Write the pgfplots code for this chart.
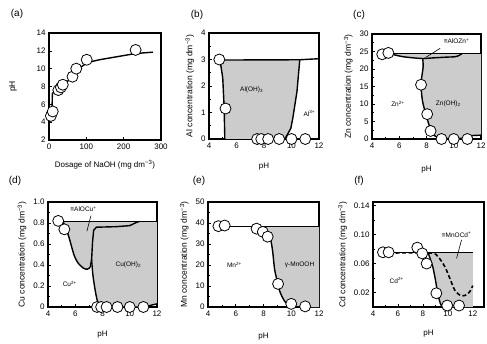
\documentclass[border=0pt]{standalone}
\usepackage{fontspec}
\setmainfont{Liberation Sans}
\usepackage{pgfplots}
\pgfplotsset{compat=1.18}
\definecolor{fillg}{gray}{0.8}
\tikzset{inlab/.style={font=\fontsize{6.5}{7}\selectfont}}
\pgfplotsset{
  every axis/.append style={
    scale only axis, clip=false, anchor=south west,
    axis line style={line width=1.1pt},
    tick align=inside, tick pos=left,
    tick style={black, line width=0.6pt},
    major tick length=3pt, minor tick length=2pt,
    tick label style={font=\fontsize{8}{9}\selectfont},
    x label style={font=\fontsize{8}{9}\selectfont, at={(axis description cs:0.5,-0.26)}, anchor=center},
    y label style={font=\fontsize{8.5}{9}\selectfont},
    /pgf/number format/assume math mode=true,
  },
  circ/.style={only marks, mark=*, mark size=5.5pt, mark options={fill=white, draw=black, line width=0.8pt}},
  crv/.style={black, line width=1.4pt, no marks},
  lead/.style={black, line width=0.6pt, no marks},
  gfill/.style={fill=fillg, draw=none, no marks},
}
\begin{document}
\begin{tikzpicture}[x=1pt,y=1pt]
\useasboundingbox (0,0) rectangle (487,343);
\node[font=\fontsize{10}{11}\selectfont] at (17,329) {(a)};
\node[font=\fontsize{10}{11}\selectfont] at (197,328) {(b)};
\node[font=\fontsize{10}{11}\selectfont] at (359,328) {(c)};
\node[font=\fontsize{10}{11}\selectfont] at (15,162) {(d)};
\node[font=\fontsize{10}{11}\selectfont] at (199,162) {(e)};
\node[font=\fontsize{10}{11}\selectfont] at (359,162) {(f)};

% (a)
\begin{axis}[at={(49pt,203pt)}, width=112pt, height=107pt,
  xmin=0, xmax=300, ymin=2, ymax=14, xtick={0,100,200,300}, ytick={2,4,...,14},
  xlabel={Dosage of NaOH (mg dm\textsuperscript{−3})}, ylabel={pH},
  x label style={at={(axis description cs:0.5,-0.235)}},
  y label style={at={(axis description cs:-0.32,0.5)}, anchor=center}]
\addplot[crv] coordinates {(3,4.4) (8,4.9) (9,7.2) (20,7.7) (33,8.1) (60,8.9) (75,9.9) (104,10.7) (135,11.0) (232,11.7) (278,11.85)};
\addplot[circ] coordinates {(5,4.7) (10,5.2) (25,7.6) (32,7.9) (37,8.2) (63,9.1) (73,10.0) (101,11.0) (232,12.1)};
\end{axis}

% (b)
\begin{axis}[at={(209pt,204pt)}, width=110pt, height=106pt,
  xmin=4, xmax=12, ymin=0, ymax=4, xtick={4,6,...,12}, ytick={0,1,...,4}, minor tick num=1,
  xlabel={pH}, ylabel={Al concentration (mg dm\textsuperscript{−3})}]
\addplot[gfill] coordinates {(4.8,2.98) (5.0,2.3) (5.1,1.2) (5.15,0) (9.5,0) (9.6,0.08) (9.95,0.4) (10.1,0.8) (10.4,1.8) (10.6,2.98)} -- cycle;
\addplot[crv] coordinates {(4.8,2.98) (10.6,2.99) (12,3.03)};
\addplot[crv] coordinates {(4.8,2.98) (5.0,2.3) (5.1,1.2) (5.15,0)};
\addplot[crv] coordinates {(10.6,2.98) (10.4,1.8) (10.1,0.8) (9.95,0.4) (9.6,0.08) (9.5,0)};
\addplot[circ] coordinates {(4.75,3.0) (5.2,1.15) (7.5,0) (7.8,0) (8.3,0) (9.1,0) (10,0) (11,0)};
\node[inlab] at (axis cs:7.1,1.85) {Al(OH)\textsubscript{3}};
\node[inlab] at (axis cs:11.3,0.97) {Al\textsuperscript{3+}};
\end{axis}

% (c)
\begin{axis}[at={(372pt,204pt)}, width=109pt, height=105pt,
  xmin=4, xmax=12, ymin=0, ymax=30, xtick={4,6,...,12}, ytick={0,5,...,30}, minor tick num=1,
  xlabel={pH}, ylabel={Zn concentration (mg dm\textsuperscript{−3})},
  x label style={at={(axis description cs:0.5,-0.29)}}]
\addplot[gfill] coordinates {(5.3,24.4) (12,24.4) (12,1.1) (11.4,1.0) (11.0,0.2) (9.1,0.1) (8.77,0.5) (8.4,1.7) (8.18,4.1) (7.94,7.3) (7.7,11) (7.6,15.8) (7.75,20.5) (7.72,23.0) (7.0,23.2) (6.3,23.5) (5.8,23.9)} -- cycle;
\addplot[crv] coordinates {(4.9,24.4) (12,24.4)};
\addplot[crv, smooth] coordinates {(5.3,24.4) (5.8,23.9) (6.3,23.5) (7.0,23.2) (7.7,23.0) (8.6,23.2) (9.5,23.4) (10.1,23.5) (10.4,23.9) (10.6,24.4)};
\addplot[crv, smooth] coordinates {(7.72,23.0) (7.75,20.5) (7.6,15.8) (7.7,11) (7.94,7.3) (8.18,4.1) (8.4,1.7) (8.77,0.5) (9.1,0.1)};
\addplot[crv] coordinates {(9.1,0.1) (11.0,0.2) (11.4,1.0) (12,1.1)};
\addplot[lead] coordinates {(9.0,25.9) (7.94,23.3)};
\addplot[circ] coordinates {(4.75,24.2) (5.2,24.6) (7.6,15.5) (8.05,7.1) (8.3,2.3) (9.1,0) (10,0) (11,0)};
\node[inlab] at (axis cs:10.2,27.9) {≡AlOZn\textsuperscript{+}};
\node[inlab] at (axis cs:5.9,10) {Zn\textsuperscript{2+}};
\node[inlab] at (axis cs:9.6,10) {Zn(OH)\textsubscript{2}};
\end{axis}

% (d)
\begin{axis}[at={(48pt,36pt)}, width=109pt, height=105pt,
  xmin=4, xmax=12, ymin=0, ymax=1, xtick={4,6,...,12}, ytick={0,0.2,0.4,0.6,0.8,1.0},
  yticklabels={0,0.2,0.4,0.6,0.8,1.0}, minor tick num=1,
  xlabel={pH}, ylabel={Cu concentration (mg dm\textsuperscript{−3})}]
\addplot[gfill] coordinates {(5.1,0.815) (12,0.815) (12,0.03) (11,0) (7.8,0) (7.6,0.07) (7.45,0.17) (7.3,0.3) (7.2,0.45) (7.15,0.40) (6.9,0.36) (6.6,0.37) (6.2,0.42) (5.9,0.5) (5.5,0.68)} -- cycle;
\addplot[crv] coordinates {(4.8,0.815) (12,0.815)};
\addplot[crv, smooth] coordinates {(5.1,0.815) (5.5,0.68) (5.9,0.5) (6.2,0.42) (6.6,0.37) (6.9,0.36) (7.1,0.38)};
\addplot[crv] coordinates {(7.1,0.38) (7.2,0.45) (7.27,0.62) (7.35,0.73) (7.55,0.76) (9.0,0.765) (10.0,0.775) (10.4,0.8) (10.7,0.815)};
\addplot[crv, smooth] coordinates {(7.2,0.45) (7.3,0.3) (7.45,0.17) (7.6,0.07) (7.8,0.0)};
\addplot[crv] coordinates {(7.8,0.0) (11,0.0) (12,0.03)};
\addplot[lead] coordinates {(7.15,0.87) (6.85,0.72)};
\addplot[circ] coordinates {(4.75,0.82) (5.2,0.74) (7.6,0) (7.9,0) (8.3,0) (9.1,0) (10,0) (11,0)};
\node[inlab] at (axis cs:6.6,0.93) {≡AlOCu\textsuperscript{+}};
\node[inlab] at (axis cs:9.9,0.40) {Cu(OH)\textsubscript{2}};
\node[inlab] at (axis cs:5.6,0.22) {Cu\textsuperscript{2+}};
\end{axis}

% (e)
\begin{axis}[at={(208pt,36pt)}, width=111pt, height=105pt,
  xmin=4, xmax=12, ymin=0, ymax=50, xtick={4,6,...,12}, ytick={0,10,...,50}, minor tick num=1,
  xlabel={pH}, ylabel={Mn concentration (mg dm\textsuperscript{−3})},
  x label style={at={(axis description cs:0.5,-0.285)}}]
\addplot[gfill] coordinates {(7.6,38.4) (8.0,37) (8.3,35) (8.5,32.5) (8.65,27) (8.8,18) (9.0,12) (9.2,7) (9.5,3) (9.8,1) (10.1,0.2) (11,0) (12,0) (12,38.4)} -- cycle;
\addplot[crv] coordinates {(4.8,38.4) (12,38.4)};
\addplot[crv, smooth] coordinates {(7.6,38.4) (8.0,37) (8.3,35) (8.5,32.5) (8.65,27) (8.8,18) (9.0,12) (9.2,7) (9.5,3) (9.8,1) (10.1,0.2) (11,0)};
\addplot[circ] coordinates {(4.75,38.5) (5.2,38.8) (7.5,37.3) (7.95,35.8) (8.3,33.5) (9.05,11) (10,1.5) (11,0.3)};
\node[inlab] at (axis cs:5.9,20) {Mn\textsuperscript{2+}};
\node[inlab] at (axis cs:10.6,20) {γ-MnOOH};
\end{axis}

% (f)
\begin{axis}[at={(373pt,36pt)}, width=111pt, height=105pt,
  xmin=4, xmax=12.9, ymin=0, ymax=0.145, xtick={4,6,...,12}, minor xtick={5,7,9,11},
  ytick={0.02,0.06,0.10,0.14}, yticklabels={0.02,0.06,0.10,0.14}, minor ytick={0.04,0.08,0.12},
  xlabel={pH}, ylabel={Cd concentration (mg dm\textsuperscript{−3})},
  x label style={at={(axis description cs:0.5,-0.25)}}]
\addplot[gfill] coordinates {(8.4,0.0756) (8.6,0.066) (8.8,0.055) (9.0,0.038) (9.2,0.018) (9.4,0.005) (9.55,0) (12,0) (12,0.0756)} -- cycle;
\addplot[crv] coordinates {(4.8,0.0756) (12,0.0756)};
\addplot[crv, smooth] coordinates {(8.4,0.0756) (8.6,0.066) (8.8,0.055) (9.0,0.038) (9.2,0.018) (9.4,0.005) (9.55,0)};
\addplot[black, line width=1.6pt, dash pattern=on 4pt off 2.5pt, smooth, no marks] coordinates {(5.3,0.0745) (8.6,0.0745) (9.2,0.0696) (9.75,0.056) (10.15,0.040) (10.55,0.0235) (10.95,0.0166) (11.35,0.0157) (11.75,0.021) (12.0,0.0295)};
\addplot[lead] coordinates {(11.1,0.0927) (10.7,0.067)};
\addplot[circ] coordinates {(4.8,0.0756) (5.25,0.0756) (7.55,0.082) (7.95,0.074) (8.3,0.060) (9.08,0.019) (9.95,0.002) (10.9,0.002)};
\node[inlab] at (axis cs:10.7,0.0996) {≡MnOCd\textsuperscript{+}};
\node[inlab] at (axis cs:5.9,0.037) {Cd\textsuperscript{2+}};
\end{axis}
\end{tikzpicture}
\end{document}
